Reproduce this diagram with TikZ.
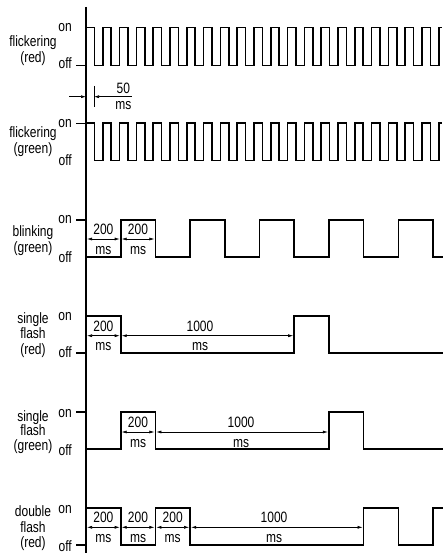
\documentclass[tikz,border=0pt]{standalone}
\usepackage{fontspec}
\setmainfont{Liberation Sans}[FakeStretch=0.8]
\usetikzlibrary{arrows.meta}
\tikzset{
  wave/.style={line width=1.6pt, line join=miter},
  axisline/.style={line width=1.3pt},
  tickline/.style={line width=1.5pt},
  dim/.style={line width=0.6pt, {Latex[length=5pt,width=3pt]}-{Latex[length=5pt,width=3pt]}},
  dimone/.style={line width=0.6pt, -{Latex[length=5pt,width=3pt]}},
  txt/.style={inner sep=0pt, font=\fontsize{15}{17}\selectfont},
  lab/.style={txt, anchor=base},
  onoff/.style={txt, anchor=base east},
}
\newcommand\dimline[5]{%
  \draw[dim] ({#1+1},{#3}) -- ({#2-1},{#3});
  \node[lab] at ({#5},{#3-4.5}) {#4};
  \node[lab] at ({#5},{#3+15}) {ms};
}
\begin{document}
\begin{tikzpicture}[x=1pt,y=-1pt]
\useasboundingbox (0,0) rectangle (444,553);
% axis
\draw[axisline] (86,7) -- (86,553);

% ---------- row 1: flickering red
\node[lab] (f1a) at (33,47) {flickering};
\node[lab] (f1b) at (33,63) {(red)};
\node[onoff] (on1) at (72,32) {on};
\node[onoff] (off1) at (72,69) {off};
\draw[tickline] (76,65.7) -- (86,65.7);
\draw[wave] (86,65.7) \foreach \k in {0,...,20} { -- ++(0,-38) -- ++(8.4,0) -- ++(0,38) -- ++(8.4,0) } -- ++(0,-38) -- ++(3,0);

% 50 ms marker
\draw[dimone] (69,96.7) -- (86,96.7);
\draw[dimone] (131.7,96.7) -- (94,96.7);
\draw[line width=0.6pt] (94,86) -- (94,106.7);
\node[lab] (t50) at (123.3,94) {50};
\node[lab] (t50ms) at (123.3,110) {ms};

% ---------- row 2: flickering green
\node[lab] (f2a) at (33,138) {flickering};
\node[lab] (f2b) at (33,154) {(green)};
\node[onoff] (on2) at (72,128) {on};
\node[onoff] (off2) at (72,166) {off};
\draw[tickline] (76,123.3) -- (86,123.3);
\draw[wave] (86,160.7) \foreach \k in {0,...,20} { -- ++(0,-37.4) -- ++(8.4,0) -- ++(0,37.4) -- ++(8.4,0) } -- ++(0,-37.4) -- ++(3,0);

% ---------- row 3: blinking green
\node[lab] (b3a) at (33,236) {blinking};
\node[lab] (b3b) at (33,252) {(green)};
\node[onoff] (on3) at (72,223) {on};
\node[onoff] (off3) at (72,262) {off};
\draw[tickline] (76,220) -- (86,220);
\draw[wave] (86,256.7) -- (120.7,256.7) -- (120.7,220) -- (155.4,220) -- (155.4,256.7)
  -- (190.1,256.7) -- (190.1,220) -- (224.8,220) -- (224.8,256.7)
  -- (259.5,256.7) -- (259.5,220) -- (294.2,220) -- (294.2,256.7)
  -- (328.9,256.7) -- (328.9,220) -- (363.6,220) -- (363.6,256.7)
  -- (398.3,256.7) -- (398.3,220) -- (433,220) -- (433,256.7) -- (443,256.7);
\dimline{86}{120.7}{239}{200}{103.4}
\dimline{120.7}{155.4}{239}{200}{138}

% ---------- row 4: single flash red
\node[lab] (s4a) at (33,323) {single};
\node[lab] (s4b) at (33,338) {flash};
\node[lab] (s4c) at (33,354) {(red)};
\node[onoff] (on4) at (72,320) {on};
\node[onoff] (off4) at (72,357) {off};
\draw[tickline] (76,353) -- (86,353);
\draw[wave] (86,353) -- (86,315.7) -- (120.7,315.7) -- (120.7,353) -- (294.2,353)
  -- (294.2,315.7) -- (328.9,315.7) -- (328.9,353) -- (443,353);
\dimline{86}{120.7}{335.7}{200}{103.4}
\dimline{120.7}{294.2}{335.7}{1000}{200}

% ---------- row 5: single flash green
\node[lab] (s5a) at (33,421) {single};
\node[lab] (s5b) at (33,435) {flash};
\node[lab] (s5c) at (33,450) {(green)};
\node[onoff] (on5) at (72,417) {on};
\node[onoff] (off5) at (72,455) {off};
\draw[tickline] (76,412) -- (86,412);
\draw[wave] (86,449) -- (120.7,449) -- (120.7,412) -- (155.4,412) -- (155.4,449) -- (328.9,449)
  -- (328.9,412) -- (363.6,412) -- (363.6,449) -- (443,449);
\dimline{120.7}{155.4}{432}{200}{138}
\dimline{155.4}{328.9}{432}{1000}{241}

% ---------- row 6: double flash red
\node[lab] (d6a) at (33,516) {double};
\node[lab] (d6b) at (33,532) {flash};
\node[lab] (d6c) at (33,547) {(red)};
\node[onoff] (on6) at (72,513) {on};
\node[onoff] (off6) at (72,551) {off};
\draw[tickline] (76,545) -- (86,545);
\draw[wave] (86,545) -- (86,508) -- (120.7,508) -- (120.7,545) -- (155.4,545) -- (155.4,508)
  -- (190.1,508) -- (190.1,545) -- (363.6,545) -- (363.6,508) -- (398.3,508) -- (398.3,545)
  -- (433,545) -- (433,508) -- (443,508);
\dimline{86}{120.7}{527.3}{200}{103.4}
\dimline{120.7}{155.4}{527.3}{200}{138}
\dimline{155.4}{190.1}{527.3}{200}{172.7}
\dimline{190.1}{363.6}{527.3}{1000}{274}
\end{tikzpicture}
\end{document}
